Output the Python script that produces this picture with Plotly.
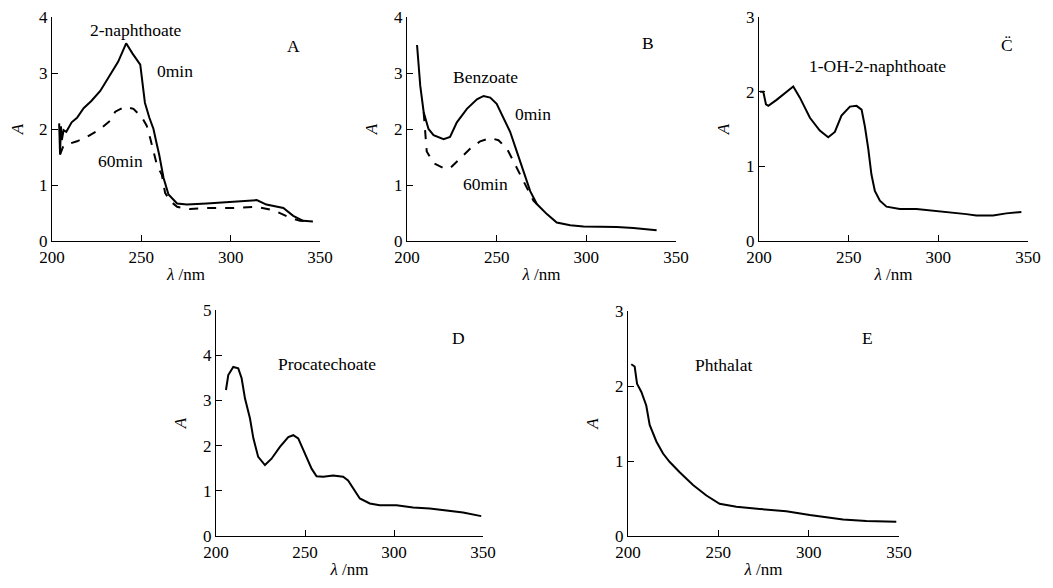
import plotly.graph_objects as go

# Panel A: 2-naphthoate, 0 min and 60 min
a_wl_0 = [204, 204.5, 205, 205.5, 206.5, 208, 211, 214, 217.7, 222, 227, 232.6, 237, 241.5,
          245, 249.4, 252, 254.5, 256.8, 258.5, 260, 262.4, 265.2, 270, 275.5, 286.6,
          301.5, 310.8, 314.6, 320, 329.5, 335, 340.6, 346]
a_ab_0 = [2.1, 1.55, 2.05, 1.8, 1.98, 1.95, 2.12, 2.2, 2.37, 2.5, 2.68, 2.97, 3.2, 3.53,
          3.35, 3.15, 2.47, 2.2, 2.0, 1.75, 1.54, 1.13, 0.83, 0.67, 0.65, 0.67,
          0.70, 0.72, 0.73, 0.65, 0.59, 0.45, 0.36, 0.35]
a_wl_60 = [204.5, 206.5, 210, 214, 219.6, 223, 227, 232.6, 235.4, 241, 245.6, 250.3, 253,
           255, 256.8, 258.7, 261.5, 263.3, 266, 270, 277.3, 286.6, 301.5, 314.6, 324,
           333, 338.8, 346]
a_ab_60 = [1.54, 1.71, 1.74, 1.78, 1.86, 1.92, 2.0, 2.15, 2.31, 2.40, 2.36, 2.21, 2.06,
           1.83, 1.6, 1.36, 1.18, 0.86, 0.72, 0.61, 0.57, 0.59, 0.59, 0.61, 0.55,
           0.42, 0.36, 0.35]

# Panel B: benzoate
b_wl_0 = [205.6, 207.4, 209.3, 212, 214.8, 220.4, 224, 227.8, 233.4, 239, 242.7, 246.4,
          250, 253.8, 257.5, 261.2, 265, 268.7, 272.4, 278, 283.5, 291, 298.4, 317,
          326.2, 339.2]
b_ab_0 = [3.5, 2.77, 2.30, 2.0, 1.89, 1.82, 1.86, 2.12, 2.36, 2.53, 2.59, 2.56,
          2.45, 2.21, 1.95, 1.6, 1.24, 0.89, 0.66, 0.48, 0.33, 0.28, 0.26, 0.25,
          0.23, 0.19]
b_wl_60 = [209.3, 211, 214.8, 220.4, 224, 229.7, 235.3, 240.8, 246.4, 251, 255.7, 259.4,
           263.1, 266.8, 270.5, 272.4]
b_ab_60 = [2.30, 1.6, 1.39, 1.30, 1.30, 1.48, 1.65, 1.78, 1.84, 1.80, 1.65, 1.42,
           1.18, 0.95, 0.72, 0.66]

# Panel C: 1-OH-2-naphthoate
c_wl = [200.6, 202.4, 203.9, 205.2, 209.8, 215.4, 219.1, 222.8, 228.4, 233.9, 238.6,
        242.3, 246, 250.7, 254.4, 257.2, 259, 260.9, 262.7, 264.6, 267.4, 271.1, 278.5,
        287.8, 297, 306.4, 315.6, 321.2, 330.5, 337.9, 346.3]
c_ab = [2.0, 2.0, 1.83, 1.81, 1.89, 2.0, 2.07, 1.92, 1.65, 1.48, 1.39,
        1.46, 1.68, 1.80, 1.81, 1.76, 1.54, 1.24, 0.89, 0.67, 0.54, 0.46, 0.43,
        0.43, 0.41, 0.39, 0.36, 0.34, 0.34, 0.37, 0.39]

# Panel D: procatechoate
d_wl = [205.6, 206.9, 209.7, 212.5, 214.4, 216.3, 219.1, 221, 223.7, 227.5, 231.2,
        235.9, 240.6, 243.4, 246.2, 249.9, 253.7, 256.5, 260.2, 265.8, 271.4, 274.2,
        277, 280.8, 286.4, 292, 301.4, 310.7, 320.1, 329.4, 338.8, 349]
d_ab = [3.23, 3.56, 3.74, 3.71, 3.49, 3.04, 2.60, 2.16, 1.75, 1.57, 1.71,
        1.97, 2.19, 2.23, 2.16, 1.82, 1.49, 1.32, 1.31, 1.34, 1.31, 1.23,
        1.05, 0.83, 0.72, 0.68, 0.68, 0.63, 0.61, 0.57, 0.52, 0.44]

# Panel E: phthalate
e_wl = [201.8, 203.7, 205, 207.4, 210.1, 212, 215.7, 219.4, 223, 228.6, 236, 243.4,
        250.7, 260, 272.9, 287.6, 300.6, 309.8, 319, 331.9, 348.5]
e_ab = [2.29, 2.26, 2.03, 1.92, 1.74, 1.48, 1.26, 1.10, 0.99, 0.85, 0.68, 0.54,
        0.43, 0.39, 0.36, 0.33, 0.28, 0.25, 0.22, 0.20, 0.19]

x_ticks = [200, 250, 300, 350]

# page body keeps its default 8px margin, so the figure is drawn 8px in
OFF = 8
W, H = 1053 - 2 * OFF, 588 - 2 * OFF
FONT = "Liberation Serif"


def px_x(a, b):
    return [(a - OFF) / W, (b - OFF) / W]


def px_y(top, bottom):
    return [1 - (bottom - OFF) / H, 1 - (top - OFF) / H]


# (x domain, y domain, y max)
panels = [
    (px_x(52, 320), px_y(17, 241), 4),
    (px_x(407, 676), px_y(17, 241), 4),
    (px_x(759, 1028), px_y(17, 241), 3),
    (px_x(216, 483), px_y(310, 536), 5),
    (px_x(628, 899), px_y(311, 536), 3),
]

fig = go.Figure()

line_solid = dict(color="black", width=2)
line_dash = dict(color="black", width=2, dash="dash")

traces = [
    (a_wl_0, a_ab_0, line_solid, 1),
    (a_wl_60, a_ab_60, line_dash, 1),
    (b_wl_0, b_ab_0, line_solid, 2),
    (b_wl_60, b_ab_60, line_dash, 2),
    (c_wl, c_ab, line_solid, 3),
    (d_wl, d_ab, line_solid, 4),
    (e_wl, e_ab, line_solid, 5),
]
for xs, ys, ln, k in traces:
    sfx = "" if k == 1 else str(k)
    fig.add_trace(go.Scatter(x=xs, y=ys, mode="lines", line=ln,
                             xaxis="x" + sfx, yaxis="y" + sfx,
                             showlegend=False, hoverinfo="skip"))

layout = dict(
    width=W, height=H,
    margin=dict(l=0, r=0, t=0, b=0),
    paper_bgcolor="white", plot_bgcolor="white",
    font=dict(family=FONT, size=17, color="black"),
    showlegend=False,
)

for i, (xd, yd, ymax) in enumerate(panels, start=1):
    sfx = "" if i == 1 else str(i)
    layout["xaxis" + sfx] = dict(
        domain=xd, anchor="y" + sfx, range=[200, 350], automargin=False,
        tickvals=x_ticks, ticks="inside", ticklen=6, tickcolor="black",
        showline=True, linecolor="black", linewidth=1.2, showgrid=False,
        zeroline=False, tickfont=dict(size=17), ticklabeloverflow="allow",
        title=dict(text="<i>λ</i> /nm", standoff=2, font=dict(size=17)),
    )
    layout["yaxis" + sfx] = dict(
        domain=yd, anchor="x" + sfx, range=[0, ymax], automargin=False,
        tickvals=list(range(ymax + 1)), ticks="inside", ticklen=6, tickcolor="black",
        showline=True, linecolor="black", linewidth=1.2, showgrid=False,
        zeroline=False, tickfont=dict(size=17), ticklabeloverflow="allow",
        title=dict(text="<i>A</i>", standoff=12, font=dict(size=17)),
    )

fig.update_layout(**layout)

labels = [
    (1, 247, 3.77, "2-naphthoate"),
    (1, 335, 3.49, "A"),
    (1, 269, 3.04, "0min"),
    (1, 238.6, 1.42, "60min"),
    (2, 243.5, 2.93, "Benzoate"),
    (2, 334.4, 3.53, "B"),
    (2, 270, 2.26, "0min"),
    (2, 243.5, 1.02, "60min"),
    (3, 265.8, 2.34, "1-OH-2-naphthoate"),
    (3, 338.3, 2.62, "C\u0308"),
    (4, 262.4, 3.81, "Procatechoate"),
    (4, 336, 4.38, "D"),
    (5, 252.6, 2.28, "Phthalat"),
    (5, 332.8, 2.64, "E"),
]
for k, x, y, t in labels:
    sfx = "" if k == 1 else str(k)
    fig.add_annotation(x=x, y=y, xref="x" + sfx, yref="y" + sfx, text=t,
                       showarrow=False, font=dict(family=FONT, size=17.5, color="black"))

fig.write_html("out.html")
